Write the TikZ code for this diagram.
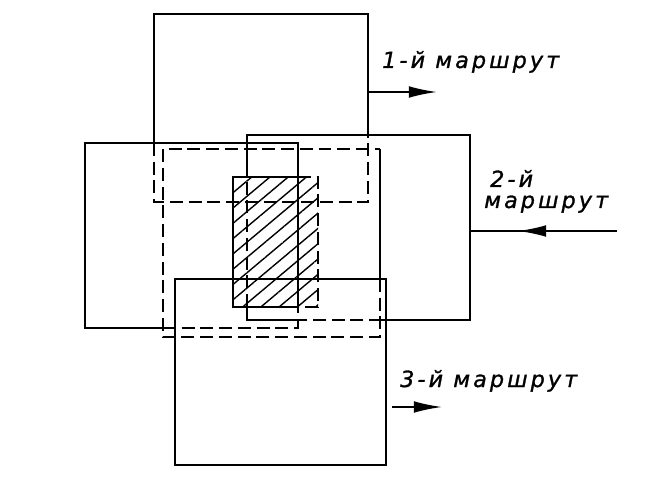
\documentclass[tikz,border=0pt]{standalone}
\usepackage{fontspec}
\newfontfamily\routefont{DejaVu Sans}[LetterSpace=14,FakeBold=1.2]
\usetikzlibrary{arrows.meta,patterns.meta}

\begin{document}
\begin{tikzpicture}[x=0.03cm,y=-0.03cm,
  contour/.style={line width=2.1pt},
  hidden/.style={line width=2.1pt,dash pattern=on 11pt off 5pt},
  route/.style={font=\routefont\itshape\fontsize{19}{22}\selectfont,anchor=base west,inner sep=0pt},
  flow/.style={line width=1.7pt,-{Latex[length=24pt,width=10pt]}}]
  \useasboundingbox (0,0) rectangle (661,480);
  % conflict zone
  \fill[pattern={Lines[angle=40,distance=10pt,line width=1.2pt]}] (233,177) rectangle (318,307);
  \draw[contour] (298,177) -- (233,177) -- (233,307) -- (298,307);
  \draw[hidden,line width=1pt] (298,177) -- (318,177) -- (318,307) -- (298,307);
  % 1st route
  \draw[contour] (154,143) -- (154,14) -- (368,14) -- (368,135);
  \draw[hidden] (154,143) -- (154,202) -- (368,202) -- (368,135);
  \draw[hidden] (380,279) -- (380,337) -- (163,337) -- (163,149) -- (380,149);
  \draw[contour] (380,149) -- (380,279);
  % 2nd route
  \draw[contour] (298,307) -- (298,143) -- (85,143) -- (85,328) -- (163,328);
  \draw[hidden] (163,328) -- (298,328) -- (298,307);
  \draw[contour] (247,177) -- (247,135) -- (470,135) -- (470,320) -- (382,320);
  \draw[hidden] (382,320) -- (298,320);
  \draw[contour] (298,320) -- (247,320) -- (247,307);
  \draw[hidden] (247,307) -- (247,177);
  % 3rd route
  \draw[contour] (175,279) rectangle (386,465);

  \coordinate (r1out) at (368,92);
  \coordinate (r1tip) at (437,92);
  \coordinate (r2edge) at (470,231);
  \coordinate (r2in) at (617,231);
  \coordinate (r2tip) at (518,231);
  \coordinate (r3out) at (392,407);
  \coordinate (r3tip) at (442,407);
  \draw[flow] (r1out) -- (r1tip);
  \draw[contour,line width=1.7pt] (r2in) -- (r2edge);
  \draw[flow] (r2in) -- (r2tip);
  \draw[flow] (r3out) -- (r3tip);

  \node[route] (lab1) at (382,68) {1-й маршрут};
  \node[route] (lab2a) at (490,187) {2-й};
  \node[route] (lab2b) at (484,208) {маршрут};
  \node[route] (lab3) at (400,387) {3-й маршрут};
\end{tikzpicture}
\end{document}
